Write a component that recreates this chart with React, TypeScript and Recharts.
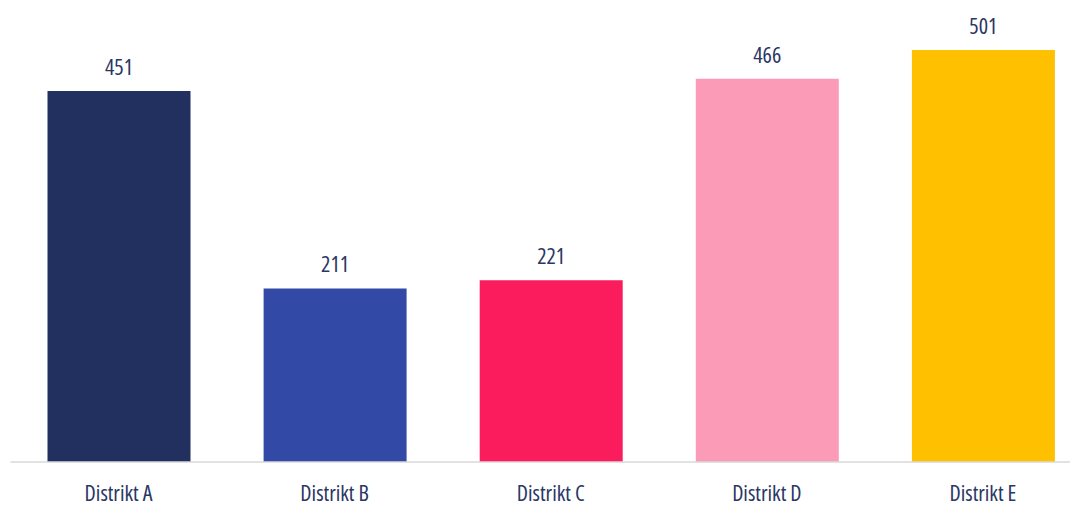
import { BarChart, Bar, XAxis, YAxis, Cell, LabelList } from 'recharts';

const districts = ['Distrikt A', 'Distrikt B', 'Distrikt C', 'Distrikt D', 'Distrikt E'];
const counts = [451, 211, 221, 466, 501];
const barColors = ['#21305f', '#3349a6', '#fa1c5c', '#fb9bb8', '#ffc000'];

const data = districts.map((name, i) => ({ name, value: counts[i] }));

const font = '"Open Sans", sans-serif';
const textColor = '#2a3664';
const textStyle = { fill: textColor, fontSize: 22, fontFamily: font, fontStretch: '78%', fontWeight: 400 };

export default function App() {
    return (
        <div style={{ width: 1070, height: 499, overflow: 'hidden', fontFamily: font }}>
            <BarChart
                width={1083}
                height={499}
                data={data}
                margin={{ top: 1.6, right: 0, bottom: 0, left: 2.5 }}
            >
                <XAxis
                    dataKey="name"
                    tickLine={false}
                    axisLine={{ stroke: '#d9d9d9', strokeWidth: 1.5 }}
                    height={45}
                    tickMargin={17}
                    tick={textStyle}
                    interval={0}
                />
                <YAxis hide domain={[0, 550]} />
                <Bar dataKey="value" barSize={143} isAnimationActive={false}>
                    {data.map((d, i) => (
                        <Cell key={d.name} fill={barColors[i]} />
                    ))}
                    <LabelList
                        dataKey="value"
                        position="top"
                        offset={16}
                        style={textStyle}
                    />
                </Bar>
            </BarChart>
        </div>
    );
}
